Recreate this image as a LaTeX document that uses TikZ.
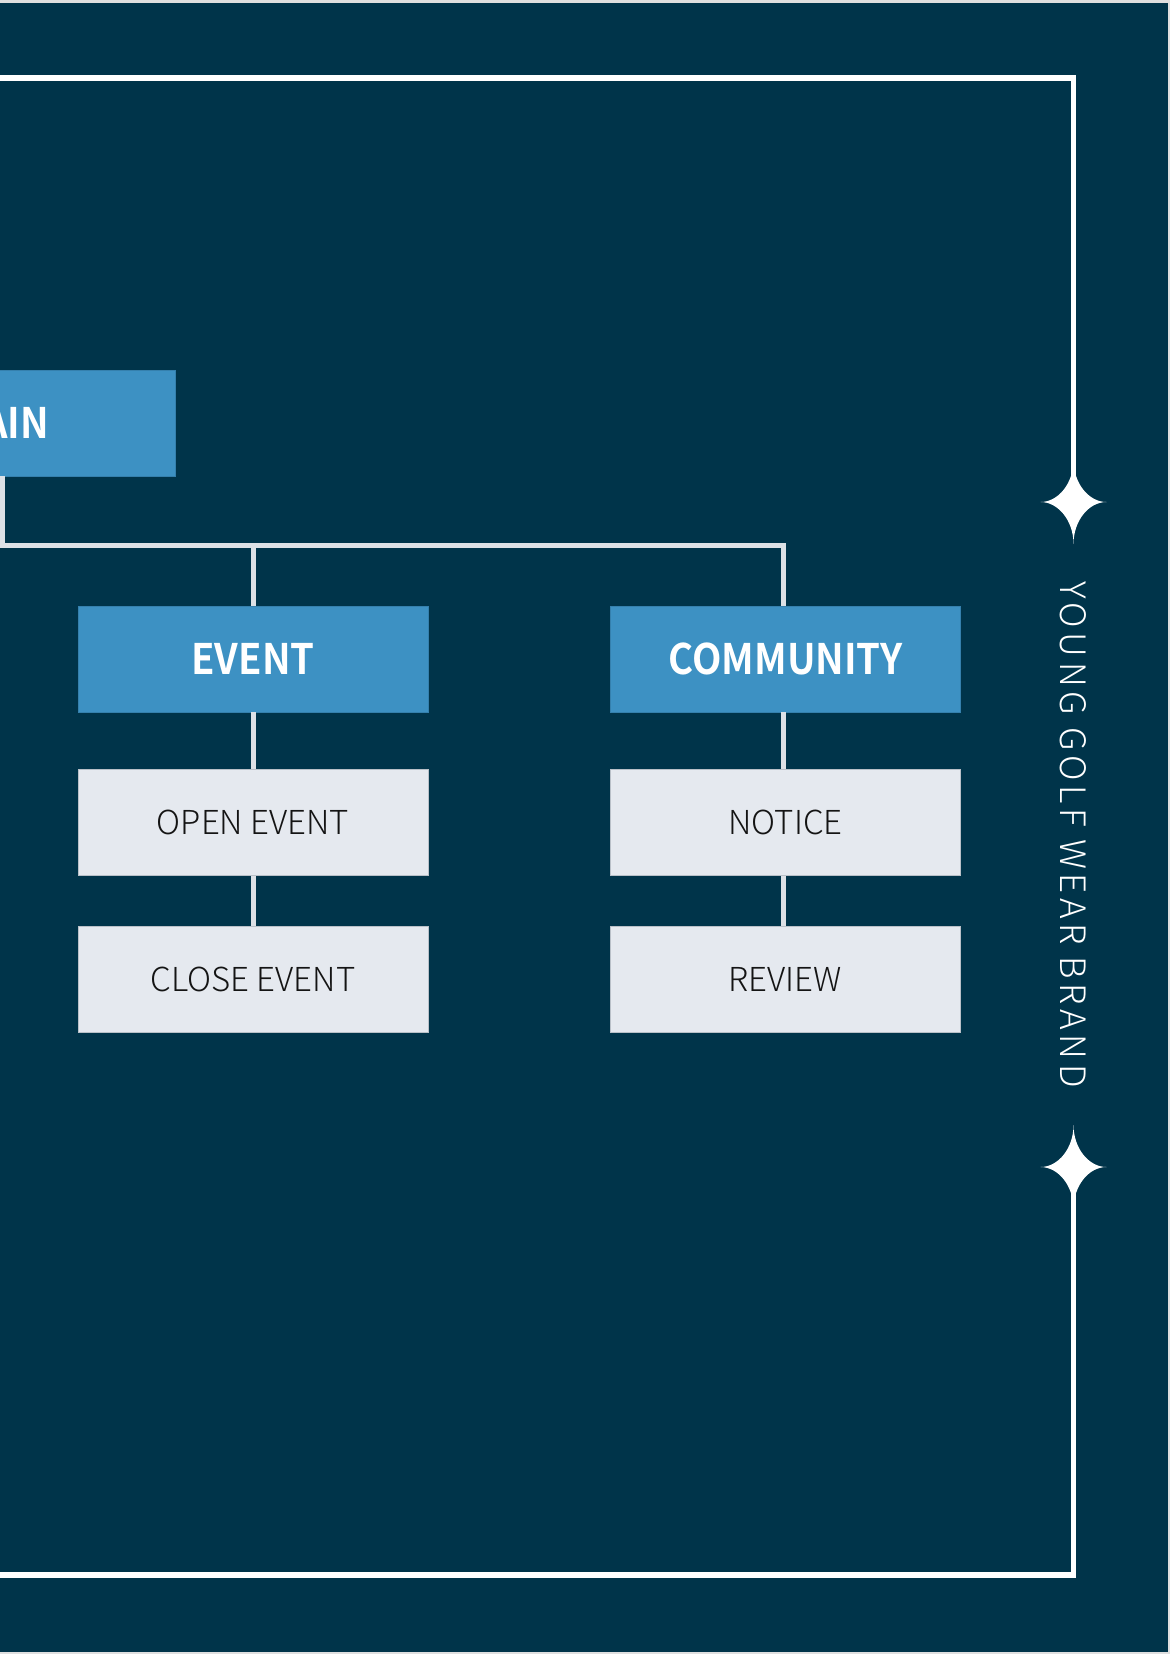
\documentclass[tikz,border=0pt]{standalone}
\usepackage{fontspec}
\usetikzlibrary{calc}
\newfontfamily\krhead{Noto Sans CJK KR Bold}[FakeStretch=0.91]
\newfontfamily\krlight{Noto Sans CJK KR Light}
\newfontfamily\brandfont{Noto Sans CJK KR Light}[LetterSpace=13]
\definecolor{navy}{HTML}{00344A}
\definecolor{panelblue}{HTML}{3D91C3}
\definecolor{panelblueedge}{HTML}{3580AD}
\definecolor{paleface}{HTML}{E5E9EF}
\definecolor{paleedge}{HTML}{B9C0C8}
\definecolor{linkgray}{HTML}{DDE1E6}
\definecolor{inkdark}{HTML}{141414}
\begin{document}
\begin{tikzpicture}[x=1pt,y=-1pt,
  headbox/.style={draw=panelblueedge,line width=0.8pt,fill=panelblue,minimum width=350pt,minimum height=106pt,
    inner sep=0pt,text=white,font=\krhead\fontsize{42}{42}\selectfont},
  leafbox/.style={draw=paleedge,line width=0.8pt,fill=paleface,minimum width=350pt,minimum height=106pt,
    inner sep=0pt,text=inkdark,font=\krlight\fontsize{33}{33}\selectfont},
  link/.style={draw=linkgray,line width=5pt,line join=miter},
  frameline/.style={draw=white,line width=5.5pt,line join=miter},
  sparkle/.style={fill=white}]
  \clip (0,0) rectangle (1170,1654);
  % page edge and dark panel
  \fill[gray!25] (0,0) rectangle (1170,1654);
  \fill[navy] (0,3) rectangle (1168,1652);

  % outer frame with the two sparkles on its right side
  \coordinate (ftl) at (-10,78);
  \coordinate (fbl) at (-10,1575);
  \coordinate (s1) at (1073.5,502);
  \coordinate (s2) at (1073.5,1167);
  \draw[frameline] (ftl) -| ([yshift=-20]s1);
  \draw[frameline] (fbl) -| ([yshift=20]s2);
  \foreach \s in {s1,s2}{
    \fill[sparkle] ($(\s)+(0,-42)$)
      .. controls ($(\s)+(0,-19)$) and ($(\s)+(15,0)$) .. ($(\s)+(33,0)$)
      .. controls ($(\s)+(15,0)$) and ($(\s)+(0,19)$) .. ($(\s)+(0,42)$)
      .. controls ($(\s)+(0,19)$) and ($(\s)+(-15,0)$) .. ($(\s)+(-33,0)$)
      .. controls ($(\s)+(-15,0)$) and ($(\s)+(0,-19)$) .. cycle;
  }
  \node[rotate=-90,text=white,font=\brandfont\fontsize{35}{35}\selectfont,inner sep=0pt]
    (brand) at (1073.5,834.5) {YOUNG GOLF WEAR BRAND};

  % tree
  \node[headbox] (main) at (0,423) {MAIN};
  \node[headbox] (event) at (253,659) {EVENT};
  \node[headbox] (community) at (785.5,659) {COMMUNITY};
  \node[leafbox] (open) at (253,822.5) {OPEN EVENT};
  \node[leafbox] (close) at (253,979.5) {CLOSE EVENT};
  \node[leafbox] (notice) at (785.5,822.5) {NOTICE};
  \node[leafbox] (review) at (785.5,979.5) {REVIEW};

  \coordinate (hub) at (2,545);
  \draw[link] ([xshift=2pt]main.south) -- (hub) -| ([xshift=-2.5pt]community.north);
  \draw[link] (hub -| event.north) -- (event.north);
  \draw[link] (event.south) -- (open.north);
  \draw[link] (open.south) -- (close.north);
  \draw[link] ([xshift=-2.5pt]community.south) -- ([xshift=-2.5pt]notice.north);
  \draw[link] ([xshift=-2.5pt]notice.south) -- ([xshift=-2.5pt]review.north);
\end{tikzpicture}
\end{document}
